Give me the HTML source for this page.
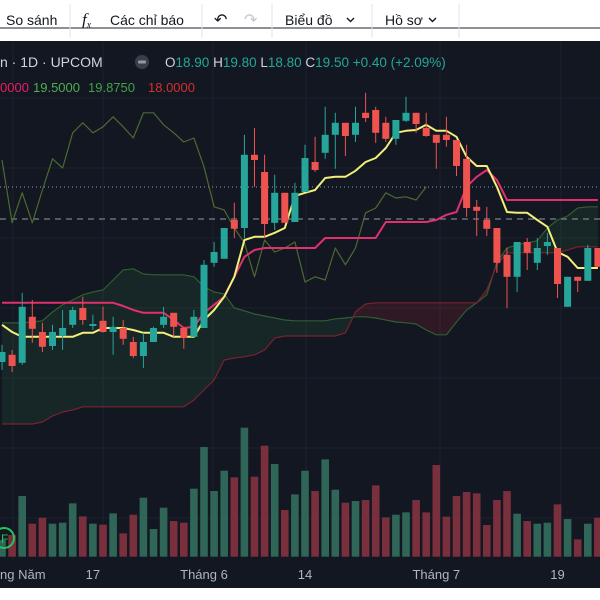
<!DOCTYPE html>
<html><head><meta charset="utf-8">
<style>
html,body{margin:0;padding:0;width:600px;height:600px;overflow:hidden;background:#fff;font-family:"Liberation Sans","DejaVu Sans",sans-serif;}
svg{position:absolute;left:0;top:0;}
</style></head>
<body>
<svg id="chart" width="600" height="600" viewBox="0 0 600 600" xmlns="http://www.w3.org/2000/svg">
  <rect x="0" y="0" width="600" height="41" fill="#ffffff"/>
  <rect x="0" y="41" width="600" height="547" fill="#131722"/>
  <rect x="0" y="588" width="600" height="12" fill="#ffffff"/>
  <g id="grid"></g>
  <g id="cloud"></g>
  <g id="vol"></g>
  <line x1="0" y1="187" x2="600" y2="187" stroke="#8aa0c8" stroke-width="1" stroke-dasharray="1,3"/>
  <line x1="0" y1="219" x2="600" y2="219" stroke="#9598a1" stroke-width="1" stroke-dasharray="6,5"/>
  <g id="lines"></g>
  <g id="candles"></g>

  <!-- toolbar -->
  <g font-size="14" fill="#131722">
    <text x="6" y="25">So sánh</text>
    <line x1="70" y1="4" x2="70" y2="38" stroke="#e0e3eb"/>
    <text x="82" y="25" font-family="Liberation Serif,serif" font-style="italic" font-size="17">f<tspan font-size="10" dy="3">x</tspan></text>
    <text x="110" y="25">Các chỉ báo</text>
    <line x1="202" y1="4" x2="202" y2="38" stroke="#e0e3eb"/>
    <text x="214" y="25" font-size="16">↶</text>
    <text x="244" y="25" font-size="16" fill="#c4c7cf">↷</text>
    <line x1="272" y1="4" x2="272" y2="38" stroke="#e0e3eb"/>
    <text x="285" y="25">Biểu đồ</text>
    <path d="M347 18 l3.5 3.5 l3.5 -3.5" fill="none" stroke="#131722" stroke-width="1.4"/>
    <line x1="372" y1="4" x2="372" y2="38" stroke="#e0e3eb"/>
    <text x="385" y="25">Hồ sơ</text>
    <path d="M429 18 l3.5 3.5 l3.5 -3.5" fill="none" stroke="#131722" stroke-width="1.4"/>
    <line x1="459" y1="4" x2="459" y2="38" stroke="#e0e3eb"/>
  </g>

  <!-- legend -->
  <text x="0" y="67" font-size="14" fill="#d1d4dc">n · 1D · UPCOM</text>
  <circle cx="142" cy="62" r="7" fill="#3a3e4a"/>
  <rect x="138" y="60.5" width="8" height="3" rx="1" fill="#9598a1"/>
  <text x="165" y="67" font-size="13.5" fill="#26a69a"><tspan fill="#d1d4dc">O</tspan>18.90 <tspan fill="#d1d4dc">H</tspan>19.80 <tspan fill="#d1d4dc">L</tspan>18.80 <tspan fill="#d1d4dc">C</tspan>19.50 +0.40 (+2.09%)</text>
  <text x="0" y="92" font-size="13"><tspan fill="#e91e63">0000</tspan><tspan x="33" fill="#4caf50">19.5000</tspan><tspan x="88" fill="#43a047">19.8750</tspan><tspan x="148" fill="#d32f2f">18.0000</tspan></text>

  <!-- F marker -->
  <circle cx="4" cy="538" r="10" fill="none" stroke="#22c55e" stroke-width="2"/>
  <text x="1" y="543" font-size="12" fill="#22c55e">F</text>

  <g id="xaxis" font-size="13" fill="#b2b5be"></g>
</svg>
<script>
const opens=[15.95,16.13,15.93,17.08,16.7,16.35,16.6,16.88,17.3,16.85,16.98,16.7,16.8,16.45,16.1,16.45,16.88,17.18,16.8,16.58,16.8,18.43,18.53,19.5,19.3,21.13,20.7,19.43,20.18,19.45,20.2,20.95,21.18,21.63,21.93,21.63,22.18,22.25,21.93,21.53,21.98,22.18,21.8,21.63,21.63,21.5,21.03,19.83,19.5,19.3,18.63,18.08,18.95,18.43,18.85,18.8,17.33,18.08,17.98,18.8];
const highs=[16.38,16.25,17.68,17.5,16.93,16.88,17.25,17.33,17.58,17.13,17.33,17.08,17.0,16.58,16.68,16.83,17.33,17.18,16.83,17.25,18.5,18.95,19.3,19.93,21.63,21.8,21.13,20.63,20.18,20.43,21.38,21.58,22.33,22.18,21.93,22.33,22.68,22.33,22.08,22.0,22.58,22.18,22.18,21.63,22.08,21.5,21.38,20.0,19.83,19.3,18.8,18.95,19.05,19.05,19.18,18.8,18.08,18.08,18.88,18.8];
const lows=[15.75,15.7,15.88,16.43,16.2,16.25,16.25,16.8,16.88,16.75,16.68,16.13,16.38,16.05,15.8,16.45,16.8,16.58,16.28,16.58,16.8,18.33,18.53,19.05,19.05,20.33,19.05,19.25,19.43,19.45,20.2,20.7,21.03,20.78,21.1,21.45,21.95,21.43,21.45,21.38,21.95,21.68,21.58,20.78,21.33,20.6,19.58,19.1,19.1,18.18,17.3,17.7,18.25,18.25,18.63,17.55,17.33,17.7,17.98,18.33];
const closes=[16.2,15.85,17.33,16.78,16.33,16.7,16.8,17.25,17.0,16.9,16.7,16.83,16.53,16.1,16.45,16.8,17.08,16.83,16.55,17.08,18.38,18.7,19.3,19.28,21.13,21.0,19.4,20.18,19.43,20.18,21.05,20.75,21.63,21.93,21.6,21.93,22.05,21.68,21.53,22.0,22.18,21.9,21.6,21.43,21.5,20.85,19.8,19.73,19.28,18.43,18.08,18.95,18.68,18.8,18.95,17.9,18.08,17.98,18.8,18.33];
const volumes=[50,65,182,99,117,99,102,160,121,99,96,130,70,126,177,83,147,107,102,204,329,197,258,238,387,240,333,278,140,187,258,197,292,201,162,167,170,214,118,126,133,170,133,275,120,182,194,190,95,170,197,129,107,99,102,157,113,52,99,117];
const tenkan=[16.88,16.7,16.58,16.58,16.58,16.58,16.58,16.58,16.68,16.68,16.8,16.8,16.8,16.75,16.68,16.68,16.68,16.58,16.58,16.58,17.0,17.25,17.58,18.08,19.0,19.08,19.08,19.18,19.3,20.1,20.18,20.25,20.55,20.58,20.58,20.73,20.95,21.05,21.3,21.68,21.73,21.75,21.88,21.73,21.73,21.58,21.08,20.85,20.85,20.33,19.7,19.68,19.68,19.5,19.33,18.7,18.58,18.3,18.3,18.3];
const kijun=[17.43,17.43,17.43,17.43,17.43,17.43,17.43,17.43,17.43,17.43,17.43,17.43,17.35,17.25,17.18,17.18,17.18,17.0,16.8,16.83,17.18,17.38,17.58,18.08,18.58,18.75,18.8,18.8,18.8,18.8,18.8,18.8,19.05,19.05,19.05,19.05,19.05,19.05,19.45,19.45,19.45,19.45,19.45,19.5,19.63,19.7,20.33,20.58,20.75,20.5,20.0,20.0,20.0,20.0,20.0,20.0,20.0,20.0,20.0,20.0];
const lagging=[21.0,19.43,20.18,19.43,20.25,21.03,20.8,21.68,21.93,21.68,21.83,22.08,21.83,21.55,22.18,22.18,21.88,21.68,21.45,21.55,20.83,19.83,19.75,19.3,18.93,18.08,19.0,18.7,18.8,18.95,17.95,18.08,18.0,18.8,18.38,18.8,19.68,19.8,20.18,20.05,20.08,20.0,20.33];
const spanA=[16.93,16.93,16.93,16.95,16.98,17.2,17.38,17.5,17.63,17.7,17.75,18.0,18.25,18.28,18.15,18.13,18.13,18.13,18.13,18.08,17.83,17.7,17.65,17.3,17.23,17.15,17.1,17.05,17.0,16.98,16.98,16.98,16.98,17.03,17.05,17.08,17.08,17.05,17.0,16.95,16.93,16.9,16.75,16.63,16.63,16.95,17.25,17.43,17.63,18.45,18.8,18.88,18.93,18.98,19.3,19.5,19.6,19.8,19.83,19.83];
const spanB=[14.4,14.4,14.4,14.4,14.45,14.6,14.7,14.75,14.83,14.83,14.83,14.83,14.83,14.83,14.83,14.83,14.83,14.83,14.83,15.0,15.25,15.5,16.0,16.05,16.08,16.13,16.25,16.55,16.6,16.6,16.6,16.6,16.6,16.6,16.68,17.2,17.4,17.43,17.43,17.43,17.43,17.43,17.43,17.43,17.43,17.43,17.43,17.43,17.75,18.38,18.68,18.68,18.68,18.68,18.68,18.68,18.75,18.83,18.83,18.83];
const dateLabels=["ng Năm","17","Tháng 6","14","Tháng 7","19"];
const dateIndex=[1,9,20,30,43,55];

const NS="http://www.w3.org/2000/svg";
function xS(k){return 2+10.1*k;}
function yS(p){return (25-p)*40;}
function vS(v){return 556.7-v/3;}
function mk(tag,attrs,parent){const e=document.createElementNS(NS,tag);for(const a in attrs)e.setAttribute(a,attrs[a]);parent.appendChild(e);return e;}

const grid=document.getElementById('grid');
[28,98,168,238,308,378,448,518].forEach(function(y){
  const l=mk('line',{x1:0,x2:600,y1:y,y2:y,stroke:'#1e222d','stroke-width':1},grid);
  
  
});
[13,103,213,306,440,561].forEach(function(x){
  const l=mk('line',{x1:x,x2:x,y1:41,y2:560,stroke:'#1e222d','stroke-width':1},grid);
  
  
});

// cloud fill
const cloud=document.getElementById('cloud');
for(let k=0;k<spanA.length-1;k++){
  const up=(spanA[k]+spanA[k+1])>=(spanB[k]+spanB[k+1]);
  const pts=[xS(k)+','+yS(spanA[k]),xS(k+1)+','+yS(spanA[k+1]),xS(k+1)+','+yS(spanB[k+1]),xS(k)+','+yS(spanB[k])].join(' ');
  const p=mk('polygon',{points:pts,fill:up?'rgba(67,160,71,0.11)':'rgba(200,40,50,0.16)',stroke:'none'},cloud);
  
  
}
function line(arr,color,w,name){
  const d=arr.map(function(v,k){return (k?'L':'M')+xS(k).toFixed(1)+' '+yS(v).toFixed(1);}).join(' ');
  const p=mk('path',{d:d,fill:'none',stroke:color,'stroke-width':w,'stroke-linejoin':'round'},document.getElementById('lines'));
  
  
}
line(spanA,'#2f5f2f',1.2,'leading-span-a');
line(spanB,'#7a2230',1.2,'leading-span-b');
line(lagging,'#4b6a30',1.2,'lagging-span');
line(kijun,'#e0306e',2,'kijun-line');
line(tenkan,'#f4ef7a',2,'tenkan-line');

// volume
const vol=document.getElementById('vol');
volumes.forEach(function(v,k){
  const up=closes[k]>=opens[k];
  const r=mk('rect',{x:xS(k)-3.8,y:vS(v),width:7.6,height:556.7-vS(v),fill:up?'#2f6657':'#7a2f3d'},vol);
  
  
});

// candles
const cg=document.getElementById('candles');
opens.forEach(function(o,k){
  const c=closes[k],up=c>=o,col=up?'#26a69a':'#ef5350';
  const w=mk('line',{x1:xS(k),x2:xS(k),y1:yS(highs[k]),y2:yS(lows[k]),stroke:col,'stroke-width':1},cg);
  
  
  const top=yS(Math.max(o,c)),bot=yS(Math.min(o,c));
  const b=mk('rect',{x:xS(k)-3.5,y:top,width:7,height:Math.max(1,bot-top),fill:col},cg);
  
  
});

// x axis labels
const xa=document.getElementById('xaxis');
dateLabels.forEach(function(t,i){
  const tx=mk('text',{x:i===0?0:xS(dateIndex[i]),y:579,'text-anchor':i===0?'start':'middle'},xa);
  tx.textContent=t;
  
  
});
</script>
</body></html>
